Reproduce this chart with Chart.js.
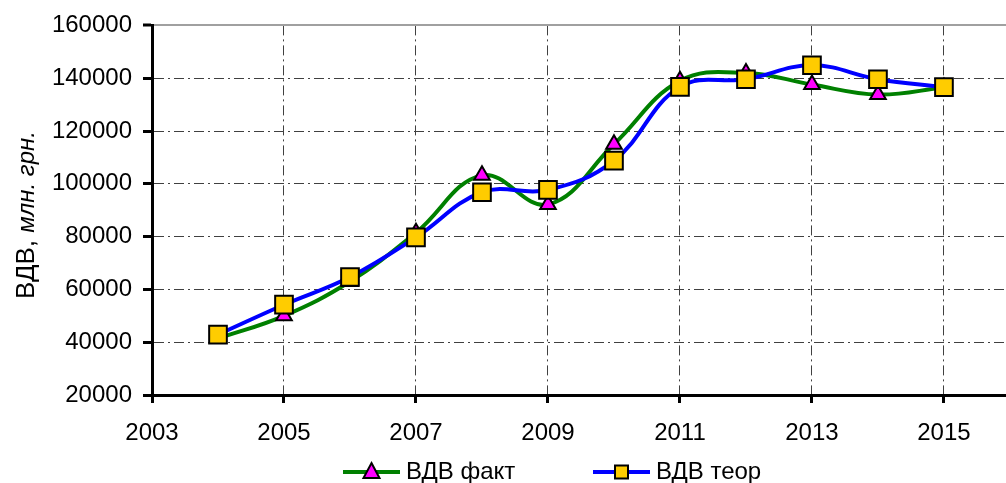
<!DOCTYPE html>
<html>
<head>
<meta charset="utf-8">
<script src="https://cdn.jsdelivr.net/npm/chart.js@4.4.0/dist/chart.umd.min.js"></script>
<style>
  html, body { margin: 0; padding: 0; background: #fff; }
  #wrap { width: 1006px; height: 483px; }
</style>
</head>
<body>
<div id="wrap"><canvas id="vdvChart" width="1006" height="483"></canvas></div>
<script>
// data (млн. грн.)
var years = [2004, 2005, 2006, 2007, 2008, 2009, 2010, 2011, 2012, 2013, 2014, 2015];
var vdvFact = [41400, 50000, 63000, 81500, 103200, 92200, 115000, 139000, 142000, 137600, 133800, 136500];
var vdvTeor = [42900, 54200, 64700, 79700, 96800, 97700, 108800, 136700, 139600, 144900, 139600, 136600];
var seriesNames = ['ВДВ факт', 'ВДВ теор'];
var xTickYears = [2003, 2005, 2007, 2009, 2011, 2013, 2015];
var yTicks = [20000, 40000, 60000, 80000, 100000, 120000, 140000, 160000];
var yTitleMain = 'ВДВ, ';
var yTitleUnit = 'млн. грн.';

var fontFamily = '"Liberation Sans", Arial, sans-serif';
Chart.defaults.font.family = fontFamily;
Chart.defaults.font.size = 24;
Chart.defaults.color = '#000';

function toPoints(values) {
  return years.map(function(y, i) { return { x: y, y: values[i] }; });
}

var gridDash = [10, 4, 2, 4];

function isTop(ctx) {
  return ctx.tick && ctx.tick.value === yTicks[yTicks.length - 1];
}

// y axis title: regular + italic parts
var yTitlePlugin = {
  id: 'yTitle',
  afterDraw: function(chart) {
    var ctx = chart.ctx;
    ctx.save();
    ctx.translate(27, 215);
    ctx.rotate(-Math.PI / 2);
    ctx.textBaseline = 'middle';
    ctx.fillStyle = '#000';
    ctx.font = '26px ' + fontFamily;
    var w1 = ctx.measureText(yTitleMain).width;
    ctx.font = 'italic 24px ' + fontFamily;
    var w2 = ctx.measureText(yTitleUnit).width;
    var x = -(w1 + w2) / 2;
    ctx.font = '26px ' + fontFamily;
    ctx.fillText(yTitleMain, x, 0);
    ctx.font = 'italic 24px ' + fontFamily;
    ctx.fillText(yTitleUnit, x + w1, 0);
    ctx.restore();
  }
};

// legend with line + marker like in excel
var lineLegendPlugin = {
  id: 'lineLegend',
  afterDraw: function(chart) {
    var ctx = chart.ctx;
    var y = 472;
    var starts = [343, 593];
    chart.data.datasets.forEach(function(ds, i) {
      var x = starts[i];
      ctx.save();
      ctx.strokeStyle = ds.borderColor;
      ctx.lineWidth = 4;
      ctx.beginPath();
      ctx.moveTo(x, y);
      ctx.lineTo(x + 57, y);
      ctx.stroke();
      var cx = x + 28.5;
      ctx.fillStyle = ds.pointBackgroundColor;
      ctx.strokeStyle = '#000';
      ctx.lineWidth = 2;
      ctx.beginPath();
      if (ds.pointStyle === 'triangle') {
        ctx.moveTo(cx, y - 9);
        ctx.lineTo(cx + 8, y + 6);
        ctx.lineTo(cx - 8, y + 6);
        ctx.closePath();
      } else {
        ctx.rect(cx - 6.5, y - 6.5, 13, 13);
      }
      ctx.fill();
      ctx.stroke();
      ctx.fillStyle = '#000';
      ctx.font = '24px ' + fontFamily;
      ctx.textBaseline = 'middle';
      ctx.fillText(ds.label, x + 63, y);
      ctx.restore();
    });
  }
};

var chartCtx = document.getElementById('vdvChart').getContext('2d');
var vdvChart = new Chart(chartCtx, {
  type: 'line',
  data: {
    datasets: [{
      label: seriesNames[0],
      data: toPoints(vdvFact),
      borderColor: '#008000',
      borderWidth: 4,
      tension: 0.4,
      pointStyle: 'triangle',
      pointRadius: 9,
      pointBackgroundColor: '#ff00ff',
      pointBorderColor: '#000',
      pointBorderWidth: 2,
      order: 2
    }, {
      label: seriesNames[1],
      data: toPoints(vdvTeor),
      borderColor: '#0000ff',
      borderWidth: 4,
      tension: 0.4,
      pointStyle: 'rect',
      pointRadius: 12.5,
      pointBackgroundColor: '#ffcc00',
      pointBorderColor: '#000',
      pointBorderWidth: 2,
      order: 1
    }]
  },
  options: {
    responsive: false,
    animation: false,
    layout: { autoPadding: false, padding: { top: 22, right: 0, bottom: 38, left: 0 } },
    plugins: {
      legend: { display: false },
      tooltip: { enabled: false }
    },
    scales: {
      x: {
        type: 'linear',
        min: 2003,
        max: 2015.94,
        afterBuildTicks: function(scale) {
          scale.ticks = xTickYears.map(function(v) { return { value: v }; });
        },
        afterFit: function(scale) {
          scale.height = 50;
          scale.paddingLeft = 0;
          scale.paddingRight = 0;
        },
        ticks: {
          padding: 16,
          maxRotation: 0,
          callback: function(v) { return String(v); }
        },
        grid: {
          color: '#404040',
          lineWidth: 1,
          tickColor: '#000',
          tickWidth: 3,
          tickLength: 8,
          tickBorderDash: []
        },
        border: { color: '#000', width: 3, dash: gridDash }
      },
      y: {
        min: 20000,
        max: 160000,
        afterBuildTicks: function(scale) {
          scale.ticks = yTicks.map(function(v) { return { value: v }; });
        },
        afterFit: function(scale) { scale.width = 152; },
        ticks: {
          padding: 11,
          callback: function(v) { return String(v); }
        },
        grid: {
          color: function(ctx) { return isTop(ctx) ? '#a0a0a0' : '#404040'; },
          lineWidth: function(ctx) { return isTop(ctx) ? 2 : 1; },
          tickColor: '#000',
          tickWidth: 3,
          tickLength: 9,
          tickBorderDash: []
        },
        border: {
          color: '#000',
          width: 3,
          dash: function(ctx) { return isTop(ctx) ? [] : gridDash; }
        }
      }
    }
  },
  plugins: [yTitlePlugin, lineLegendPlugin]
});
</script>
</body>
</html>
